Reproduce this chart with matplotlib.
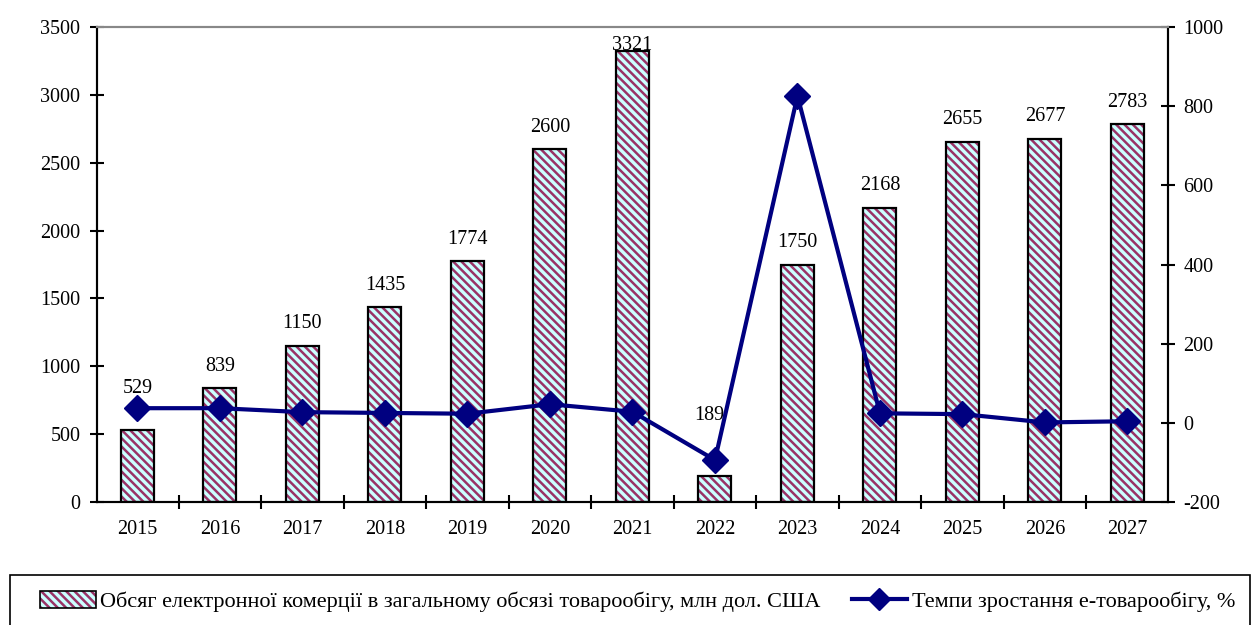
import numpy as np
import matplotlib.pyplot as plt
from matplotlib.patches import Rectangle
from matplotlib.lines import Line2D
from matplotlib.legend_handler import HandlerTuple

plt.rcParams['font.family'] = ['Liberation Serif', 'DejaVu Serif']
plt.rcParams['axes.unicode_minus'] = False
plt.rcParams['hatch.linewidth'] = 1.8

years = ['2015', '2016', '2017', '2018', '2019', '2020', '2021',
         '2022', '2023', '2024', '2025', '2026', '2027']
volume = [529, 839, 1150, 1435, 1774, 2600, 3321, 189, 1750, 2168, 2655, 2677, 2783]
growth = [37, 37, 27, 25, 23, 47, 28, -94, 826, 24, 22, 1, 4]

bar_label = 'Обсяг електронної комерції в загальному обсязі товарообігу, млн дол. США'
line_label = 'Темпи зростання е-товарообігу, %'

fs = 14.5
fig = plt.figure(figsize=(12.53, 6.25), dpi=100)
ax = fig.add_axes([0.0774, 0.1968, 0.8547, 0.76])
ax2 = ax.twinx()

x = np.arange(len(years))
# hatched fill (stripes take the edge colour), then a black outline on top
ax.bar(x, volume, width=0.4, color='#ccffff', edgecolor='#993366',
       linewidth=0, hatch='\\\\\\\\', zorder=2)
ax.bar(x, volume, width=0.4, fill=False, edgecolor='black',
       linewidth=1.6, zorder=2.1)

# label nudges (points) where the chart moves labels away from the line
extra = {0: 14, 6: -12, 7: 28}
shift = {7: -4}
for i, v in enumerate(volume):
    ax.annotate(str(v), (x[i], v), xytext=(shift.get(i, 0), 9 + extra.get(i, 0)),
                textcoords='offset points', ha='center', va='bottom',
                fontsize=fs)

ax2.plot(x, growth, color='#000080', linewidth=3, marker='D',
         markersize=13, zorder=3)

ax.set_xlim(-0.49, len(years) - 0.51)
ax.set_ylim(0, 3500)
ax.set_yticks(range(0, 3501, 500))
ax2.set_ylim(-200, 1000)
ax2.set_yticks(range(-200, 1001, 200))

ax.set_xticks(x[:-1] + 0.5)
ax.set_xticklabels([])
ax.set_xticks(x, minor=True)
ax.set_xticklabels(years, minor=True)
ax.tick_params(axis='x', which='minor', length=0, pad=13, labelsize=fs)
ax.tick_params(axis='x', which='major', direction='inout', length=10, width=1.5)
ax.tick_params(axis='y', direction='inout', length=10, width=1.5, labelsize=fs, pad=7)
ax2.tick_params(axis='y', direction='inout', length=10, width=1.5, labelsize=fs, pad=6)

for a in (ax, ax2):
    for s in ('left', 'right', 'bottom'):
        a.spines[s].set_linewidth(1.5)
        a.spines[s].set_color('black')
    a.spines['top'].set_color('#888888')
    a.spines['top'].set_linewidth(1.5)
ax.set_zorder(ax2.get_zorder() - 1)
ax2.patch.set_visible(False)

# legend box
fig.patches.append(Rectangle((0.008, -0.02), 0.99, 0.1, transform=fig.transFigure,
                             fill=False, edgecolor='black', linewidth=1.2))
h1a = Rectangle((0, 0), 1, 1, facecolor='#ccffff', edgecolor='#993366',
                linewidth=0, hatch='\\\\\\\\')
h1b = Rectangle((0, 0), 1, 1, fill=False, edgecolor='black', linewidth=1.2)
h2 = Line2D([], [], color='#000080', linewidth=3, marker='D', markersize=11)
fig.legend([(h1a, h1b), h2], [bar_label, line_label], loc='center left',
           bbox_to_anchor=(0.032, 0.037), ncol=2, frameon=False,
           fontsize=16, handlelength=2.5, handletextpad=0.2,
           columnspacing=1.4, handleheight=0.8, borderpad=0, borderaxespad=0,
           handler_map={tuple: HandlerTuple(ndivide=1, pad=0)})

fig.savefig('out.png', dpi=100)
